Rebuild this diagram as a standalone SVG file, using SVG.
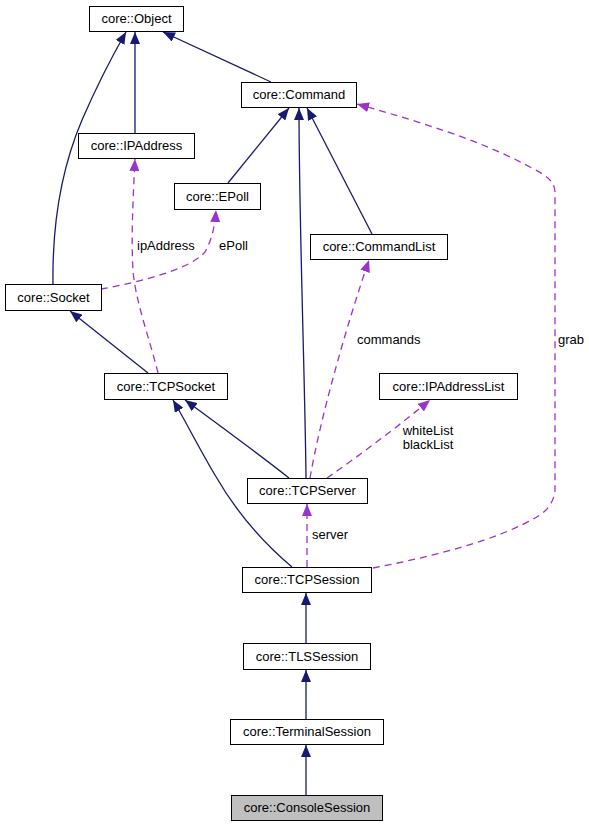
<svg xmlns="http://www.w3.org/2000/svg" width="589" height="827" viewBox="0 0 589 827">
<style>
.node rect{fill:#ffffff;stroke:#000000;stroke-width:1}
.node text{font-family:"Liberation Sans",Arial,Helvetica,sans-serif;font-size:13px;fill:#000000;text-anchor:middle}
.inh{fill:none;stroke:#191970;stroke-width:1.3}
.use{fill:none;stroke:#9a32cd;stroke-width:1.3;stroke-dasharray:7,5}
.lbl{font-family:"Liberation Sans",Arial,Helvetica,sans-serif;font-size:13px;fill:#000000}
</style>
<defs>
<marker id="aInh" viewBox="0 0 12 10" refX="12" refY="5" markerWidth="12" markerHeight="10" markerUnits="userSpaceOnUse" orient="auto">
<path d="M0,0 L12,5 L0,10 z" fill="#191970" stroke="none"/>
</marker>
<marker id="aUse" viewBox="0 0 12 10" refX="12" refY="5" markerWidth="12" markerHeight="10" markerUnits="userSpaceOnUse" orient="auto">
<path d="M0,0 L12,5 L0,10 z" fill="#9a32cd" stroke="none"/>
</marker>
</defs>
<rect width="589" height="827" fill="#ffffff"/>
<g id="edges">
<path class="inh" marker-end="url(#aInh)" d="M53,284 C52,215 65,160 82,120 C95,90 110,60 126,32"/>
<path class="inh" marker-end="url(#aInh)" d="M135,133 L135,32"/>
<path class="inh" marker-end="url(#aInh)" d="M271,82 L163,32"/>
<path class="inh" marker-end="url(#aInh)" d="M228,183 L289,108"/>
<path class="inh" marker-end="url(#aInh)" d="M306,478 C305,380 299,220 299,108"/>
<path class="inh" marker-end="url(#aInh)" d="M372,234 L307,108"/>
<path class="use" marker-end="url(#aUse)" d="M101,289 C135,283 190,270 205,252 C212,240 215,225 216,210"/>
<path class="use" marker-end="url(#aUse)" d="M158,373 C150,340 135,300 133,270 C131,240 133,200 135,159"/>
<path class="inh" marker-end="url(#aInh)" d="M148,373 L70,311"/>
<path class="inh" marker-end="url(#aInh)" d="M289,478 C260,455 215,422 185,400"/>
<path class="inh" marker-end="url(#aInh)" d="M292,567 C260,540 235,510 215,475 C200,450 185,420 173,400"/>
<path class="use" marker-end="url(#aUse)" d="M310,478 C320,420 345,330 369,260"/>
<path class="use" marker-end="url(#aUse)" d="M327,478 C360,455 400,425 430,400"/>
<path class="use" marker-end="url(#aUse)" d="M307,567 L307,504"/>
<path class="use" marker-end="url(#aUse)" d="M373,568 C430,557 500,540 540,515 C552,507 555,495 555,490 L555,193 C555,180 545,175 530,167 C480,140 420,122 357,104"/>
<path class="inh" marker-end="url(#aInh)" d="M306,643 L306,593"/>
<path class="inh" marker-end="url(#aInh)" d="M306,719 L306,670"/>
<path class="inh" marker-end="url(#aInh)" d="M306,795 L306,745"/>
<text class="lbl" x="137" y="250">ipAddress</text>
<text class="lbl" x="219" y="250">ePoll</text>
<text class="lbl" x="357" y="344">commands</text>
<text class="lbl" x="558" y="344">grab</text>
<text class="lbl" x="428" y="435" text-anchor="middle">whiteList</text>
<text class="lbl" x="428" y="449" text-anchor="middle">blackList</text>
<text class="lbl" x="312" y="539">server</text>
</g>
<g id="node-Object" class="node"><rect x="89.5" y="6.5" width="94" height="25"/><text x="136.5" y="23">core::Object</text></g>
<g id="node-IPAddress" class="node"><rect x="78.5" y="133.5" width="116" height="25"/><text x="136.5" y="150">core::IPAddress</text></g>
<g id="node-EPoll" class="node"><rect x="174.5" y="183.5" width="86" height="26"/><text x="217.5" y="200.5">core::EPoll</text></g>
<g id="node-Command" class="node"><rect x="241.5" y="82.5" width="115" height="25"/><text x="299" y="99">core::Command</text></g>
<g id="node-CommandList" class="node"><rect x="310.5" y="234.5" width="137" height="25"/><text x="379" y="251">core::CommandList</text></g>
<g id="node-Socket" class="node"><rect x="5.5" y="284.5" width="96" height="26"/><text x="53.5" y="301.5">core::Socket</text></g>
<g id="node-TCPSocket" class="node"><rect x="104.5" y="373.5" width="123" height="26"/><text x="166" y="390.5">core::TCPSocket</text></g>
<g id="node-IPAddressList" class="node"><rect x="379.5" y="373.5" width="138" height="26"/><text x="448.5" y="390.5">core::IPAddressList</text></g>
<g id="node-TCPServer" class="node"><rect x="247.5" y="478.5" width="120" height="25"/><text x="307.5" y="495">core::TCPServer</text></g>
<g id="node-TCPSession" class="node"><rect x="242.5" y="567.5" width="129" height="25"/><text x="307" y="584">core::TCPSession</text></g>
<g id="node-TLSSession" class="node"><rect x="243.5" y="643.5" width="127" height="26"/><text x="307" y="660.5">core::TLSSession</text></g>
<g id="node-TerminalSession" class="node"><rect x="230.5" y="719.5" width="153" height="25"/><text x="307" y="736">core::TerminalSession</text></g>
<g id="node-ConsoleSession" class="node"><rect x="231.5" y="795.5" width="151" height="25" style="fill:#bfbfbf"/><text x="307" y="812">core::ConsoleSession</text></g>
</svg>
